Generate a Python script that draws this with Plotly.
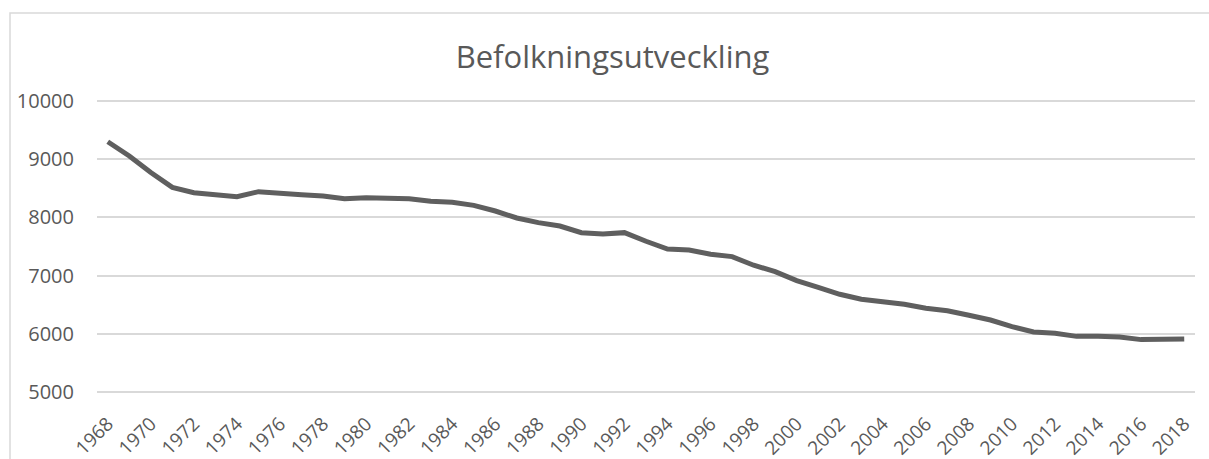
import plotly.graph_objects as go

years = list(range(1968, 2019))
population = [9300, 9055, 8770, 8517, 8425, 8400, 8356, 8442, 8425, 8390,
              8368, 8322, 8339, 8339, 8320, 8276, 8259, 8207, 8110, 7990,
              7910, 7852, 7738, 7715, 7738, 7590, 7457, 7440, 7366, 7326,
              7178, 7069, 6914, 6799, 6679, 6593, 6558, 6507, 6438, 6397,
              6318, 6237, 6122, 6031, 6008, 5956, 5956, 5945, 5900, 5900,
              5911]
tick_years = list(range(1968, 2019, 2))
y_ticks = [5000, 6000, 7000, 8000, 9000, 10000]
title_text = "Befolkningsutveckling"

W, H = 1209, 459
L, R, T, B = 97, 1195, 101, 392

fig = go.Figure()
fig.add_trace(go.Scatter(
    x=years, y=population, mode="lines",
    line=dict(color="#5f5f5f", width=5),
    hoverinfo="skip", showlegend=False,
))

font_family = "Open Sans, Liberation Sans, sans-serif"
pad = 10  # small padding so edge gridlines are drawn
ppu = (B - T) / 5000.0

fig.update_layout(
    width=W, height=H,
    margin=dict(l=L, r=W - R, t=T - pad, b=H - B - pad, pad=0),
    paper_bgcolor="white", plot_bgcolor="white",
    title=dict(text=title_text, x=612.5 / W, xanchor="center",
               y=1 - 57 / H, yanchor="middle",
               font=dict(family=font_family, size=31, color="#595959")),
    xaxis=dict(range=[1967.5, 2018.5], tickmode="array", tickvals=tick_years,
               ticktext=[str(v) for v in tick_years], tickangle=-45,
               showgrid=False, zeroline=False, showline=False, ticks="",
               automargin=False, ticklabelstandoff=6,
               tickfont=dict(family=font_family, size=19, color="#595959")),
    yaxis=dict(range=[5000 - pad / ppu, 10000 + pad / ppu], tickmode="array",
               tickvals=y_ticks, ticktext=[str(v) for v in y_ticks],
               showgrid=True, gridcolor="#d9d9d9", gridwidth=1.5, zeroline=False,
               showline=False, ticks="", ticklabelstandoff=22, automargin=False,
               tickfont=dict(family=font_family, size=20, color="#595959")),
    shapes=[dict(type="rect", xref="paper", yref="paper",
                 x0=(10 - L) / (R - L), x1=(1220 - L) / (R - L),
                 y0=(B + pad - 470) / (B - T + 2 * pad), y1=(B + pad - 13) / (B - T + 2 * pad),
                 line=dict(color="#d9d9d9", width=1.5), layer="below")],
)

fig.write_html("out.html", config={"displayModeBar": False},
               post_script="document.body.style.margin='0';document.body.style.overflow='hidden';")
